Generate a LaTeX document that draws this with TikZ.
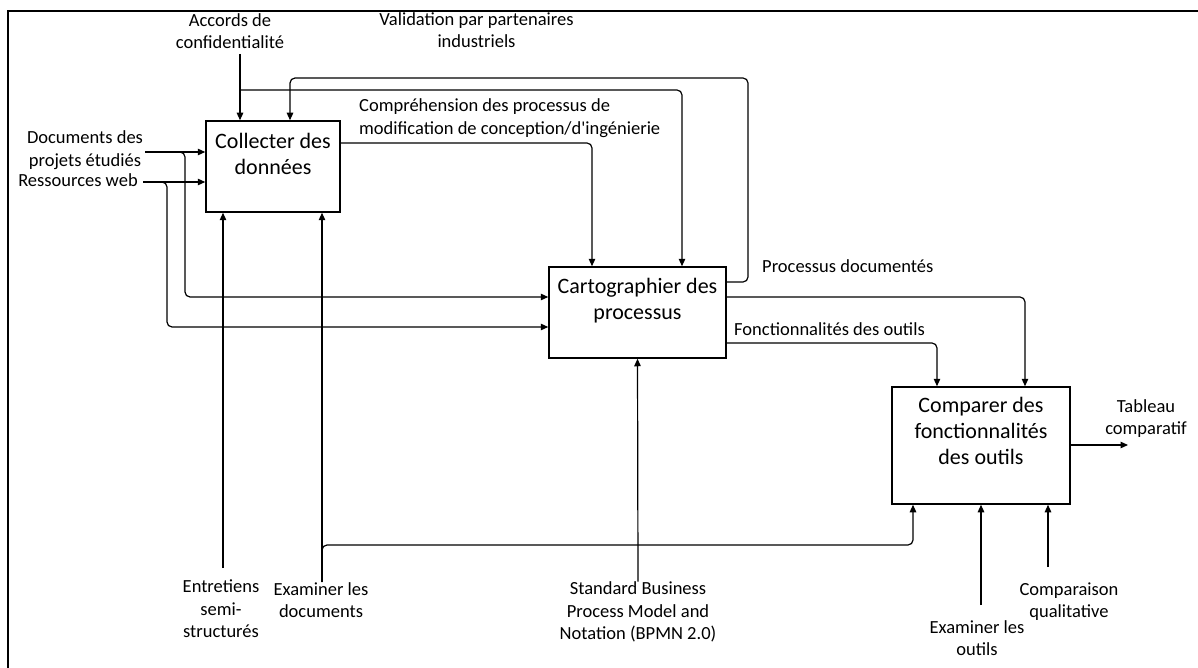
\documentclass[tikz,border=0pt]{standalone}
\usepackage{fontspec}
\setmainfont{Carlito}[Ligatures=TeXOff]
\usetikzlibrary{arrows.meta}
\begin{document}
\begin{tikzpicture}[x=1pt,y=-1pt,
  proc/.style={draw, line width=1.5pt, rectangle, inner sep=0pt},
  ptext/.style={font=\fontsize{22}{26}\selectfont, align=center, inner sep=0pt},
  lbl/.style={font=\fontsize{18.5}{22.5}\selectfont, align=center, inner sep=0pt},
  lbll/.style={lbl, align=left, anchor=west},
  flow/.style={line width=1.2pt, -{Triangle[length=7.5pt,width=6.5pt]}},
  bendflow/.style={flow, rounded corners=5pt}]
\useasboundingbox (0,0) rectangle (1198,668);

% frame
\draw[line width=2pt] (8,668) -- (8,11) -- (1198,11);

% activity boxes
\node[proc, minimum width=134pt, minimum height=91pt] (collect) at (273,166.5) {};
\node[ptext] (collect-t) at (273,154) {Collecter des\\données};
\node[proc, minimum width=177pt, minimum height=91pt] (carto) at (637.5,312.5) {};
\node[ptext] (carto-t) at (637.5,301) {Cartographier des\\processus};
\node[proc, minimum width=178pt, minimum height=117pt] (comp) at (981,445.5) {};
\node[ptext] (comp-t) at (981,431) {Comparer des\\fonctionnalités\\des outils};

% labels
\node[lbl] (nda) at (230,31) {Accords de\\confidentialité};
\node[lbl] (val) at (476.5,30) {Validation par partenaires\\industriels};
\node[lbll] (compr) at (359,118) {Compréhension des processus de\\modification de conception/d'ingénierie};
\node[lbl] (docs) at (85,150) {Documents des\\projets étudiés};
\node[lbl] (web) at (78,180.5) {Ressources web};
\node[lbll] (pdoc) at (762,266.5) {Processus documentés};
\node[lbll] (fout) at (734,329.5) {Fonctionnalités des outils};
\node[lbl] (interv) at (221,609) {Entretiens\\semi-\\structurés};
\node[lbl] (exdoc) at (321,600) {Examiner les\\documents};
\node[lbl] (bpmn) at (638,612) {Standard Business\\Process Model and\\Notation (BPMN 2.0)};
\node[lbl] (qual) at (1069,601.5) {Comparaison\\qualitative};
\node[lbl] (exout) at (977,638) {Examiner les\\outils};
\node[lbl] (tab) at (1146,418.5) {Tableau\\comparatif};

% bend points and free ends
\coordinate (d0) at (145,152);
\coordinate (d1) at (185,297);
\coordinate (w0) at (143,182);
\coordinate (w1) at (167,327);
\coordinate (n0) at (240,90);
\coordinate (n1) at (682,90);
\coordinate (v0) at (748,282);
\coordinate (v1) at (290,78);
\coordinate (c1) at (592,143);
\coordinate (p1) at (1025,297);
\coordinate (f1) at (937,343);
\coordinate (i0) at (223,568);
\coordinate (e0) at (322,582);
\coordinate (e1) at (913,545);
\coordinate (q0) at (1048,567);
\coordinate (o0) at (981,605);
\coordinate (t1) at (1128,445);

% inputs
\draw[flow] (d0) -- (d0 -| collect.west);
\draw[bendflow] (d0) -| (d1) -- (d1 -| carto.west);
\draw[flow] (w0) -- (w0 -| collect.west);
\draw[bendflow] (w0) -| (w1) -- (w1 -| carto.west);

% controls from above
\draw[flow] ([yshift=-5pt]nda.south -| n0) -- (n0 |- collect.north);
\draw[bendflow] (n0) -- (n1) -- (n1 |- carto.north);
\draw[bendflow] (v0 -| carto.east) -- (v0) |- (v1) -- (v1 |- collect.north);
\draw[bendflow] (c1 -| collect.east) -- (c1) -- (c1 |- carto.north);

% outputs of the mapping step
\draw[bendflow] (p1 -| carto.east) -- (p1) -- (p1 |- comp.north);
\draw[bendflow] (f1 -| carto.east) -- (f1) -- (f1 |- comp.north);

% mechanisms from below
\draw[flow] (i0) -- (i0 |- collect.south);
\draw[flow] (e0) -- (e0 |- collect.south);
\draw[bendflow] (e0) |- (e1) -- (e1 |- comp.south);
\draw[flow] (bpmn.north) -- (carto.south);
\draw[flow] (q0) -- (q0 |- comp.south);
\draw[flow] (o0) -- (o0 |- comp.south);

% final output
\draw[flow] (t1 -| comp.east) -- (t1);
\end{tikzpicture}
\end{document}
